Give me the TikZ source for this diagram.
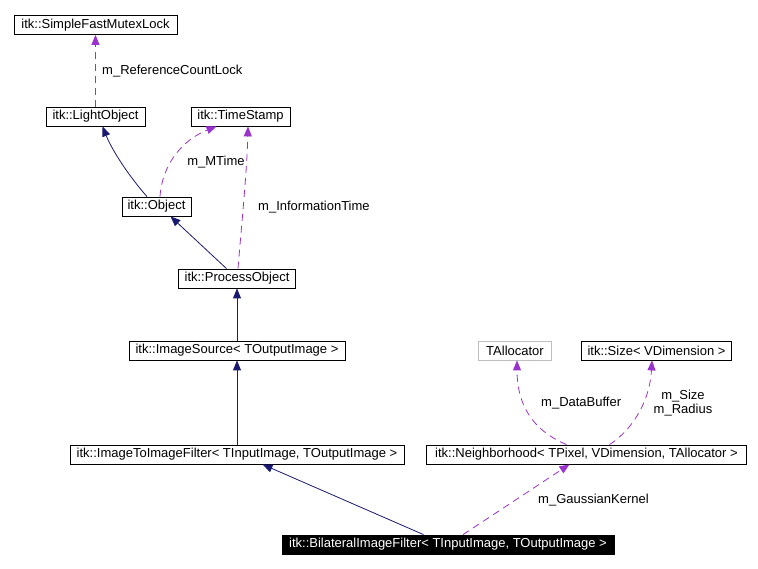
\documentclass[tikz,border=0pt]{standalone}
\usepackage{fontspec}
\setmainfont{Liberation Sans}
\usetikzlibrary{arrows.meta}
\definecolor{edgeNavy}{RGB}{25, 25, 112}
\definecolor{edgePurple}{RGB}{154, 50, 205}
\definecolor{boxGrey}{RGB}{191, 191, 191}

\tikzset{
  cls/.style={draw, line width=0.8pt, inner sep=0pt, minimum height=19pt,
    font=\fontsize{13}{15}\selectfont},
  tmpl/.style={cls, draw=boxGrey},
  focus/.style={cls, fill=black, text=white},
  inherit/.style={edgeNavy, line width=0.8pt, -{Triangle[length=10pt,width=8pt]}},
  usage/.style={edgePurple, line width=0.8pt, dash pattern=on 7pt off 5pt,
    -{Triangle[length=10pt,width=8pt]}},
  lbl/.style={inner sep=0pt, font=\fontsize{13}{14}\selectfont}
}

\begin{document}
\begin{tikzpicture}[x=1pt, y=-1pt]
  \useasboundingbox (0,0) rectangle (758,569);

  % classes
  \node[cls, minimum width=163pt] (lock) at (95.5,25) {itk::SimpleFastMutexLock};
  \node[cls, minimum width=99pt] (light) at (95.5,116.5) {itk::LightObject};
  \node[cls, minimum width=99pt] (ts) at (240.5,116.5) {itk::TimeStamp};
  \node[cls, minimum width=69pt] (obj) at (156.5,206.5) {itk::Object};
  \node[cls, minimum width=117pt] (proc) at (237,278.5) {itk::ProcessObject};
  \node[cls, minimum width=216pt] (src) at (237,350.5) {itk::ImageSource< TOutputImage >};
  \node[cls, minimum width=334pt] (itf) at (237,454.5) {itk::ImageToImageFilter< TInputImage, TOutputImage >};
  \node[tmpl, minimum width=73pt] (talloc) at (515,350.5) {TAllocator};
  \node[cls, minimum width=150pt] (size) at (656.5,350.5) {itk::Size< VDimension >};
  \node[cls, minimum width=320pt] (nb) at (586.5,454.5) {itk::Neighborhood< TPixel, VDimension, TAllocator >};
  \node[focus, minimum width=332pt] (bil) at (448,544.5) {itk::BilateralImageFilter< TInputImage, TOutputImage >};

  % inheritance
  \draw[inherit] ([xshift=-9.5]obj.north) .. controls (128,175) and (112,150) .. ([xshift=7]light.south);
  \draw[inherit] ([xshift=-10.5]proc.north) -- ([xshift=14]obj.south);
  \draw[inherit] (src.north) -- (proc.south);
  \draw[inherit] (itf.north) -- (src.south);
  \draw[inherit] ([xshift=-24.5]bil.north) -- ([xshift=25.5]itf.south);

  % members
  \draw[usage] (light.north) -- (lock.south);
  \draw[usage] ([xshift=3.5]obj.north) .. controls (162,165) and (182,140) .. ([xshift=-24]ts.south);
  \draw[usage] ([xshift=1]proc.north) .. controls (242,220) and (247,170) .. ([xshift=7.5]ts.south);
  \draw[usage] ([xshift=15]bil.north) -- ([xshift=-17]nb.south);
  \draw[usage] ([xshift=-20]nb.north) .. controls (527,428) and (517,398) .. ([xshift=2]talloc.south);
  \draw[usage] ([xshift=23]nb.north) .. controls (635,428) and (650,398) .. ([xshift=-4.5]size.south);

  % member labels
  \node[lbl, anchor=west] (lRef) at (102,71) {m\_ReferenceCountLock};
  \node[lbl] (lMTime) at (216,162) {m\_MTime};
  \node[lbl, anchor=west] (lInfo) at (258,207) {m\_InformationTime};
  \node[lbl, anchor=west] (lBuf) at (541,403) {m\_DataBuffer};
  \node[lbl, align=center] (lSize) at (683,403) {m\_Size\\m\_Radius};
  \node[lbl, anchor=west] (lGauss) at (538,500) {m\_GaussianKernel};
\end{tikzpicture}
\end{document}
